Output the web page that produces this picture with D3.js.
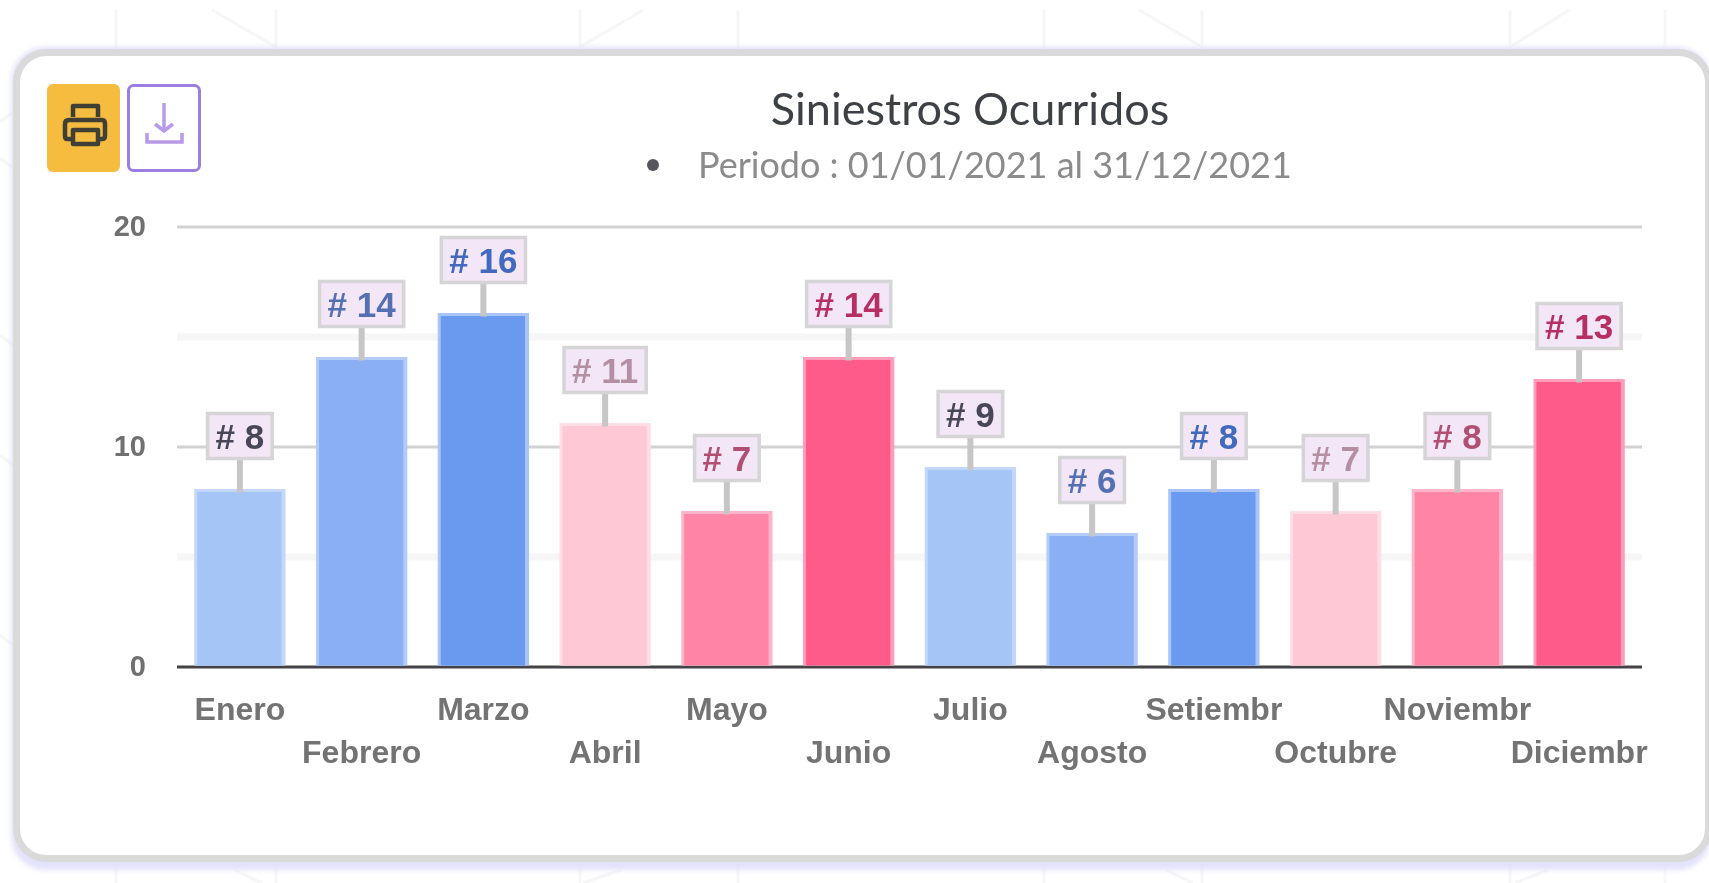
<!DOCTYPE html>
<html>
<head>
<meta charset="utf-8">
<script src="https://d3js.org/d3.v7.min.js"></script>
<style>
  html, body { margin: 0; padding: 0; background: #fff; overflow: hidden; }
  svg { display: block; }
  svg text { filter: blur(0.6px); }
</style>
</head>
<body>
<svg id="chart"></svg>
<script>
// chart values
const months = ["Enero", "Febrero", "Marzo", "Abril", "Mayo", "Junio", "Julio", "Agosto", "Setiembr", "Octubre", "Noviembr", "Diciembr"];
const siniestros = [8, 14, 16, 11, 7, 14, 9, 6, 8, 7, 8, 13];
const yTicks = [0, 5, 10, 15, 20];
const yLabels = [0, 10, 20];

// colours repeat every six bars
const barFill = ["#a6c5f7", "#8aaff3", "#6a9aef", "#fec8d5", "#ff85a7", "#ff5b8a"];
const barEdge = ["#c3d7fa", "#b2cbf8", "#a9c4f7", "#ffdde5", "#ffb4ca", "#ff9dbb"];
const labelColor = ["#474759", "#5570b2", "#4069bf", "#b48fa2", "#b04f72", "#b52f62"];

const W = 1709, H = 883;
const margin = { left: 177, right: 67, top: 226.5, bottom: 216.5 };

const svg = d3.select("#chart").attr("width", W).attr("height", H);

// faint background pattern behind the card
const bg = svg.append("g").attr("stroke", "#f6f6f7").attr("stroke-width", 3).attr("fill", "none");
[116, 276, 580, 738, 1044, 1202, 1510, 1665].forEach(x => {
    bg.append("line").attr("x1", x).attr("x2", x).attr("y1", 10).attr("y2", 60);
    bg.append("line").attr("x1", x).attr("x2", x).attr("y1", 850).attr("y2", H);
});
[[212, 10, 276, 47], [643, 10, 580, 47], [1139, 10, 1202, 47], [1569, 10, 1510, 47],
 [234, 870, 262, 883], [621, 870, 583, 883], [1166, 870, 1193, 883], [1548, 870, 1515, 883],
 [0, 122, 13, 112], [0, 158, 13, 168], [0, 335, 13, 345], [0, 455, 13, 465], [0, 635, 13, 645]]
.forEach(d => bg.append("line").attr("x1", d[0]).attr("y1", d[1]).attr("x2", d[2]).attr("y2", d[3]));

// card
const defs = svg.append("defs");
const shadow = defs.append("filter").attr("id", "soft").attr("x", "-5%").attr("y", "-5%").attr("width", "110%").attr("height", "110%");
shadow.append("feGaussianBlur").attr("stdDeviation", 2.5);
svg.append("rect").attr("x", 11).attr("y", 47).attr("width", 1700).attr("height", 823).attr("rx", 34)
    .attr("fill", "#e2e2fc").attr("filter", "url(#soft)");
svg.append("rect").attr("x", 16.5).attr("y", 52.5).attr("width", 1692).attr("height", 806).attr("rx", 30)
    .attr("fill", "#fff").attr("stroke", "#dbdadb").attr("stroke-width", 7);

// buttons
svg.append("rect").attr("x", 47).attr("y", 84).attr("width", 73).attr("height", 88).attr("rx", 6).attr("fill", "#f6bc3f");
svg.append("rect").attr("x", 128.5).attr("y", 85.5).attr("width", 71).attr("height", 85).attr("rx", 5)
    .attr("fill", "#fff").attr("stroke", "#9b7fe0").attr("stroke-width", 3);

const printer = svg.append("g").attr("fill", "none").attr("stroke", "#3f3f35").attr("stroke-width", 4.5)
    .attr("stroke-linejoin", "round");
printer.append("path").attr("d", "M73 117V106H98V117");
printer.append("path").attr("d", "M73 139H67Q65 139 65 136V124Q65 120 69 120H102Q105 120 105 124V136Q105 139 102 139H98");
printer.append("path").attr("d", "M73 130H98V144H73Z");

const dl = svg.append("g").attr("fill", "none").attr("stroke", "#b79be8").attr("stroke-width", 3.5);
dl.append("path").attr("d", "M164 103V130");
dl.append("path").attr("d", "M155 124L164 131L173 124");
dl.append("path").attr("d", "M147 133V142H182V133");

// title
svg.append("text").attr("x", 970).attr("y", 125).attr("text-anchor", "middle")
    .style("font-family", "Lato").style("font-size", "45px").attr("fill", "#3d4146")
    .text("Siniestros Ocurridos");
svg.append("circle").attr("cx", 653).attr("cy", 165).attr("r", 6).attr("fill", "#53575b");
svg.append("text").attr("x", 698).attr("y", 178).style("font-family", "Lato").style("font-size", "36px")
    .attr("fill", "#8b8b8b")
    .text("Periodo : 01/01/2021 al 31/12/2021");

// scales
const x = d3.scaleBand().domain(months).range([179, 1640]).paddingInner(0.25).paddingOuter(0.125);
const y = d3.scaleLinear().domain([0, 20]).range([H - margin.bottom, margin.top]);

// y axis and grid
const yAxis = svg.append("g").attr("transform", `translate(${margin.left},0)`)
    .call(d3.axisLeft(y).tickValues(yTicks).tickSize(-(W - margin.left - margin.right)).tickPadding(31)
        .tickFormat(d => yLabels.includes(d) ? d : ""));
yAxis.select(".domain").remove();
yAxis.selectAll(".tick line")
    .attr("stroke", d => d === 0 ? "#444448" : (d % 10 === 0 ? "#d2d2d2" : "#f6f6f6"))
    .attr("stroke-width", d => d % 10 === 0 ? 3 : 7);
yAxis.selectAll(".tick text")
    .style("font-family", "Liberation Sans").style("font-size", "29px").style("font-weight", "bold").attr("fill", "#707070");

// bars, the border sits half above the value
const bars = svg.append("g");
bars.selectAll("rect.edge").data(siniestros).enter().append("rect").attr("class", "edge")
    .attr("x", (d, i) => x(months[i]))
    .attr("y", d => y(d) - 1.5)
    .attr("width", x.bandwidth())
    .attr("height", d => y(0) - y(d) + 0.5)
    .attr("fill", (d, i) => barEdge[i % 6]);
bars.selectAll("rect.fill").data(siniestros).enter().append("rect").attr("class", "fill")
    .attr("x", (d, i) => x(months[i]) + 3)
    .attr("y", d => y(d) + 1.5)
    .attr("width", x.bandwidth() - 7)
    .attr("height", d => y(0) - y(d) - 2.5)
    .attr("fill", (d, i) => barFill[i % 6]);

// x axis, labels alternate over two rows
const xAxis = svg.append("g").attr("transform", `translate(0,${y(0)})`)
    .call(d3.axisBottom(x).tickSize(0).tickPadding(0));
xAxis.select(".domain").remove();
xAxis.selectAll(".tick text")
    .attr("y", (d, i) => i % 2 === 0 ? 53 : 96)
    .attr("dy", 0)
    .style("font-family", "Liberation Sans").style("font-size", "32px").style("font-weight", "bold").attr("fill", "#737373");

// value callouts
const callouts = svg.append("g").selectAll("g").data(siniestros).enter().append("g")
    .attr("transform", (d, i) => `translate(${x(months[i]) + x.bandwidth() / 2},${y(d)})`);
callouts.append("line").attr("y1", 2).attr("y2", -32).attr("stroke", "#c6c6c6").attr("stroke-width", 6);
const boxes = callouts.append("rect");
const labels = callouts.append("text")
    .attr("text-anchor", "middle").attr("y", -42)
    .style("font-family", "Liberation Sans").style("font-size", "35px").style("font-weight", "bold")
    .attr("fill", (d, i) => labelColor[i % 6])
    .text(d => "# " + d);
labels.each(function(d, i) {
    const w = this.getComputedTextLength() + 16;
    d3.select(boxes.nodes()[i])
        .attr("x", -w / 2).attr("width", w)
        .attr("y", -77).attr("height", 45)
        .attr("fill", "#f3e6f6").attr("stroke", "#d5d4d6").attr("stroke-width", 3.5);
});
</script>
</body>
</html>
